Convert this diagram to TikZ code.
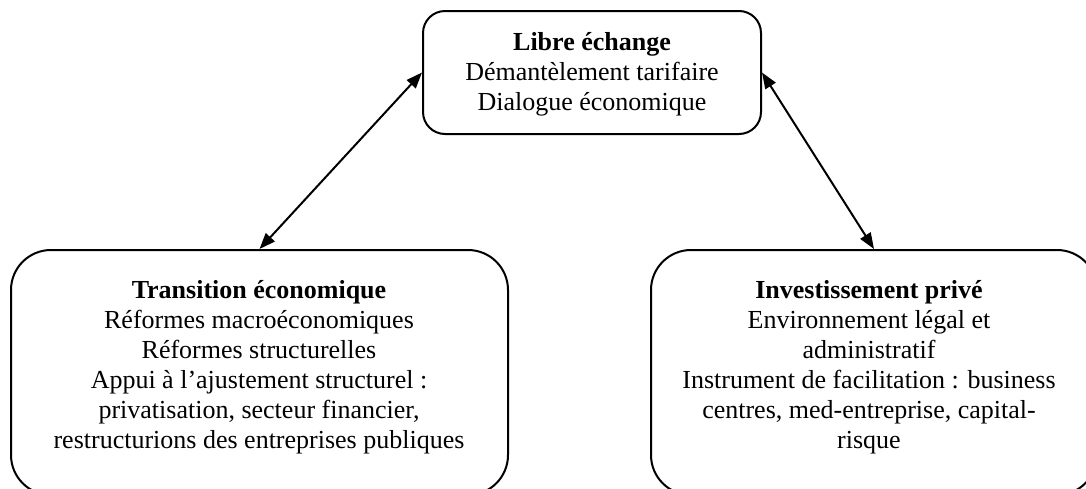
\documentclass[tikz,border=0pt]{standalone}
\usepackage{fontspec}
\setmainfont{Liberation Serif}
\usetikzlibrary{arrows.meta}
\begin{document}
\begin{tikzpicture}[x=1pt,y=-1pt,
  boxstyle/.style={draw=black,line width=2pt,inner sep=0pt,rectangle},
  txt/.style={align=center,inner sep=0pt,font=\fontsize{26}{30}\selectfont},
  link/.style={line width=2pt,{Triangle[length=16pt,width=12pt]}-{Triangle[length=16pt,width=12pt]}}]
\useasboundingbox (0,0) rectangle (1086,488);
\clip (0,0) rectangle (1086,488);
\node[boxstyle,rounded corners=22pt,minimum width=338pt,minimum height=123pt] (top) at (592,72.5) {};
\node[boxstyle,rounded corners=40pt,minimum width=497pt,minimum height=245pt] (left) at (259.5,372.5) {};
\node[boxstyle,rounded corners=40pt,minimum width=446pt,minimum height=245pt] (right) at (874,372.5) {};
\node[txt] (toptxt) at (592,74) {\textbf{Libre échange}\\Démantèlement tarifaire\\Dialogue économique};
\node[txt] (lefttxt) at (259,367) {\textbf{Transition économique}\\Réformes macroéconomiques\\Réformes structurelles\\Appui à l’ajustement structurel :\\privatisation, secteur financier,\\restructurions des entreprises publiques};
\node[txt] (righttxt) at (869,367) {\textbf{Investissement privé}\\Environnement légal et\\administratif\\Instrument de facilitation : business\\centres, med-entreprise, capital-\\risque};
\draw[link] (top.west) -- (left.north);
\draw[link] (top.east) -- (right.north);
\end{tikzpicture}
\end{document}
